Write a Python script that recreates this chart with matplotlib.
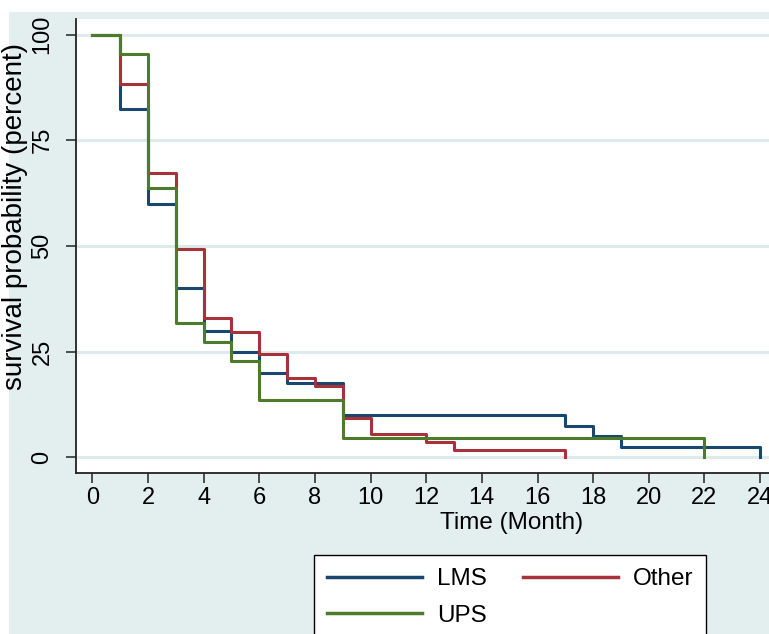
import matplotlib

matplotlib.use("Agg")
import matplotlib.pyplot as plt
from matplotlib.patches import Rectangle

plt.rcParams["font.family"] = ["Liberation Sans", "DejaVu Sans"]

# Kaplan-Meier step data (percent surviving)
lms_time = [0, 1, 2, 3, 4, 5, 6, 7, 9, 17, 18, 19, 24]
lms_surv = [100, 82.5, 60, 40, 30, 25, 20, 17.5, 10, 7.5, 5, 2.5, 0]

other_time = [0, 1, 2, 3, 4, 5, 6, 7, 8, 9, 10, 12, 13, 17]
other_surv = [100, 88.4, 67.3, 49.3, 32.9, 29.6, 24.4, 18.7, 16.8, 9.3, 5.6, 3.7, 1.8, 0]

ups_time = [0, 1, 2, 3, 4, 5, 6, 9, 22]
ups_surv = [100, 95.5, 63.6, 31.8, 27.3, 22.7, 13.6, 4.5, 0]

x_ticks = list(range(0, 25, 2))
y_ticks = [0, 25, 50, 75, 100]

BG = "#E3EEEF"
GRID = "#DDEBEC"
W, H = 769, 634

fig = plt.figure(figsize=(W / 100, H / 100), dpi=100, facecolor="white")
fig.patches.append(Rectangle((9 / W, 0), 1, 1 - 12 / H, transform=fig.transFigure,
                             facecolor=BG, edgecolor="none", zorder=-10))

left, right = 75.7 / W, 1.0
bottom, top = 1 - 472.7 / H, 1 - 19 / H
ax = fig.add_axes([left, bottom, right - left, top - bottom])
ax.set_facecolor("white")

ax.set_xlim(-0.597, 24.32)
ax.set_ylim(-3.64, 103.7)

for yv in y_ticks:
    ax.axhline(yv, color=GRID, lw=2.2, zorder=0)

lms, = ax.plot(lms_time, lms_surv, drawstyle="steps-post", color="#1A476F", lw=2.2, label="LMS")
oth, = ax.plot(other_time, other_surv, drawstyle="steps-post", color="#A8323A", lw=2.2, label="Other")
ups, = ax.plot(ups_time, ups_surv, drawstyle="steps-post", color="#4D7A2B", lw=2.2, label="UPS")

for s in ["top", "right"]:
    ax.spines[s].set_visible(False)
for s in ["left", "bottom"]:
    ax.spines[s].set_color("#222222")
    ax.spines[s].set_linewidth(1.3)

ax.set_xticks(x_ticks)
ax.set_yticks(y_ticks)
ax.set_yticklabels([str(v) for v in y_ticks], rotation=90, va="center")
ax.tick_params(axis="x", length=7, width=1.1, pad=3.5, labelsize=17, color="#222222")
ax.tick_params(axis="y", length=7, width=1.1, pad=9, labelsize=17, color="#222222")

ax.set_xlabel("Time (Month)", fontsize=17.5)
ax.xaxis.set_label_coords((512 - 75.7) / (W - 75.7), (472.7 - 512) / (472.7 - 19))
ax.set_ylabel("survival probability (percent)", fontsize=20)
ax.yaxis.set_label_coords((28 - 75.7) / (W - 75.7), (472.7 - 216) / (472.7 - 19))

leg = ax.legend([lms, ups, oth], ["LMS", "UPS", "Other"], ncol=2,
                loc="upper left", bbox_to_anchor=(314 / W, 1 - 555 / H),
                bbox_transform=fig.transFigure, fontsize=17.5, frameon=True,
                fancybox=False, framealpha=1, edgecolor="black",
                handlelength=3.9, handletextpad=0.6, columnspacing=1.5,
                labelspacing=0.6, borderpad=0.55, borderaxespad=0)
leg.get_frame().set_linewidth(1.0)
for line in leg.get_lines():
    line.set_linewidth(2.5)

fig.savefig("out.png", dpi=100, facecolor="white")
